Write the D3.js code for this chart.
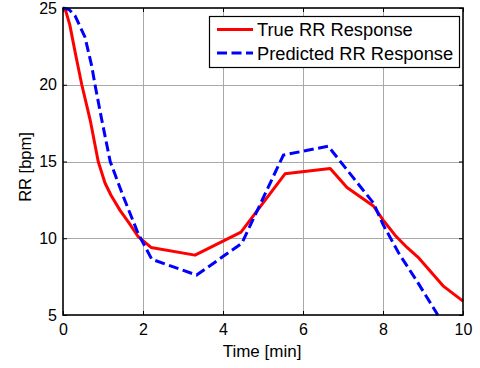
<!DOCTYPE html>
<html>
<head>
<meta charset="utf-8">
<script src="https://cdn.jsdelivr.net/npm/d3@7"></script>
<style>
  html, body { margin: 0; padding: 0; background: #fff; }
  svg { display: block; }
  text { font-family: "Liberation Sans", Arial, sans-serif; fill: #000; }
</style>
</head>
<body>
<svg id="chart" width="480" height="368"></svg>
<script>
// ---- data ----
const trueTime = [0, 0.07, 0.17, 0.32, 0.47, 0.68, 0.88, 1.05, 1.2, 1.43, 1.65, 1.88, 2.2, 3.3, 4.45, 5.55, 6.68, 7.1, 7.43, 7.76, 8.0, 8.3, 8.6, 8.9, 9.2, 9.5, 10];
const trueRR   = [25, 24.8, 23.9, 21.9, 20, 17.7, 15, 13.6, 12.8, 11.8, 11.0, 10.1, 9.4, 8.9, 10.4, 14.2, 14.55, 13.3, 12.7, 12.1, 11.2, 10.2, 9.4, 8.7, 7.8, 6.9, 5.9];

const predTime = [0, 0.15, 0.3, 0.55, 0.72, 0.8, 0.97, 1.18, 1.51, 1.88, 2.22, 3.34, 4.47, 5.51, 6.63, 7.3, 7.76, 8.0, 8.4, 8.85, 9.37];
const predRR   = [25, 24.9, 24.5, 23.1, 21.2, 20, 17.7, 15, 12.7, 10.3, 8.63, 7.6, 9.67, 15.42, 16.0, 13.8, 12.3, 10.9, 9.0, 7.2, 5.0];

const xTicks = [0, 2, 4, 6, 8, 10];
const yTicks = [5, 10, 15, 20, 25];
const seriesNames = ["True RR Response", "Predicted RR Response"];
const seriesColors = ["#ff0000", "#0000ff"];

// ---- layout ----
const svg = d3.select("#chart");
const mLeft = 63, mRight = 463, mTop = 8, mBottom = 315;
const x = d3.scaleLinear().domain([0, 10]).range([mLeft, mRight]);
const y = d3.scaleLinear().domain([5, 25]).range([mBottom, mTop]);

// grid
const grid = svg.append("g");
grid.selectAll("line.gx").data(xTicks.slice(1, -1)).enter().append("line")
  .attr("x1", d => x(d) + 0.5).attr("x2", d => x(d) + 0.5)
  .attr("y1", mTop).attr("y2", mBottom)
  .attr("stroke", "#a8a8a8").attr("stroke-width", 1);
grid.selectAll("line.gy").data(yTicks.slice(1, -1)).enter().append("line")
  .attr("y1", d => Math.round(y(d)) + 0.5).attr("y2", d => Math.round(y(d)) + 0.5)
  .attr("x1", mLeft).attr("x2", mRight)
  .attr("stroke", "#a8a8a8").attr("stroke-width", 1);

// axes
const xAxis = d3.axisBottom(x).tickValues(xTicks).tickSize(-4).tickPadding(9);
const yAxis = d3.axisLeft(y).tickValues(yTicks).tickSize(-4).tickPadding(6);
const gx = svg.append("g").attr("transform", `translate(0,${mBottom})`).call(xAxis);
const gy = svg.append("g").attr("transform", `translate(${mLeft},0)`).call(yAxis);
const gxTop = svg.append("g").attr("transform", `translate(0,${mTop})`).call(d3.axisTop(x).tickValues(xTicks).tickSize(-4).tickFormat(""));
const gyRight = svg.append("g").attr("transform", `translate(${mRight},0)`).call(d3.axisRight(y).tickValues(yTicks).tickSize(-4).tickFormat(""));
[gx, gy, gxTop, gyRight].forEach(g => {
  g.select(".domain").remove();
  g.selectAll(".tick line").attr("stroke", "#000");
  g.selectAll("text").style("font-family", '"Liberation Sans", Arial, sans-serif')
    .style("font-size", "16px").attr("fill", "#000");
});

// lines
const lineGen = d3.line().x(d => x(d[0])).y(d => y(d[1]));
const trueData = trueTime.map((t, i) => [t, trueRR[i]]);
const predData = predTime.map((t, i) => [t, predRR[i]]);
svg.append("path").datum(trueData).attr("d", lineGen)
  .attr("fill", "none").attr("stroke", seriesColors[0]).attr("stroke-width", 3)
  .attr("stroke-linejoin", "round");
svg.append("path").datum(predData).attr("d", lineGen)
  .attr("fill", "none").attr("stroke", seriesColors[1]).attr("stroke-width", 3)
  .attr("stroke-dasharray", "10,4.5");

// box
svg.append("rect").attr("x", mLeft).attr("y", mTop).attr("width", mRight - mLeft).attr("height", mBottom - mTop)
  .attr("fill", "none").attr("stroke", "#000").attr("stroke-width", 1.6);

// labels
svg.append("text").attr("x", 262).attr("y", 357).attr("text-anchor", "middle")
  .style("font-size", "17px").text("Time [min]");
svg.append("text").attr("transform", "translate(31,167) rotate(-90)").attr("text-anchor", "middle")
  .style("font-size", "16.5px").text("RR [bpm]");

// legend
const lg = svg.append("g");
lg.append("rect").attr("x", 209.5).attr("y", 16.5).attr("width", 250).attr("height", 51)
  .attr("fill", "#fff").attr("stroke", "#000").attr("stroke-width", 1.2);
const rows = [29.5, 53];
seriesNames.forEach((name, i) => {
  lg.append("line").attr("x1", 217).attr("x2", 253).attr("y1", rows[i]).attr("y2", rows[i])
    .attr("stroke", seriesColors[i]).attr("stroke-width", 3)
    .attr("stroke-dasharray", i === 1 ? "10,4.5" : null);
  lg.append("text").attr("x", 257).attr("y", rows[i] + 6.5)
    .style("font-size", "18.3px").text(name);
});
</script>
</body>
</html>
